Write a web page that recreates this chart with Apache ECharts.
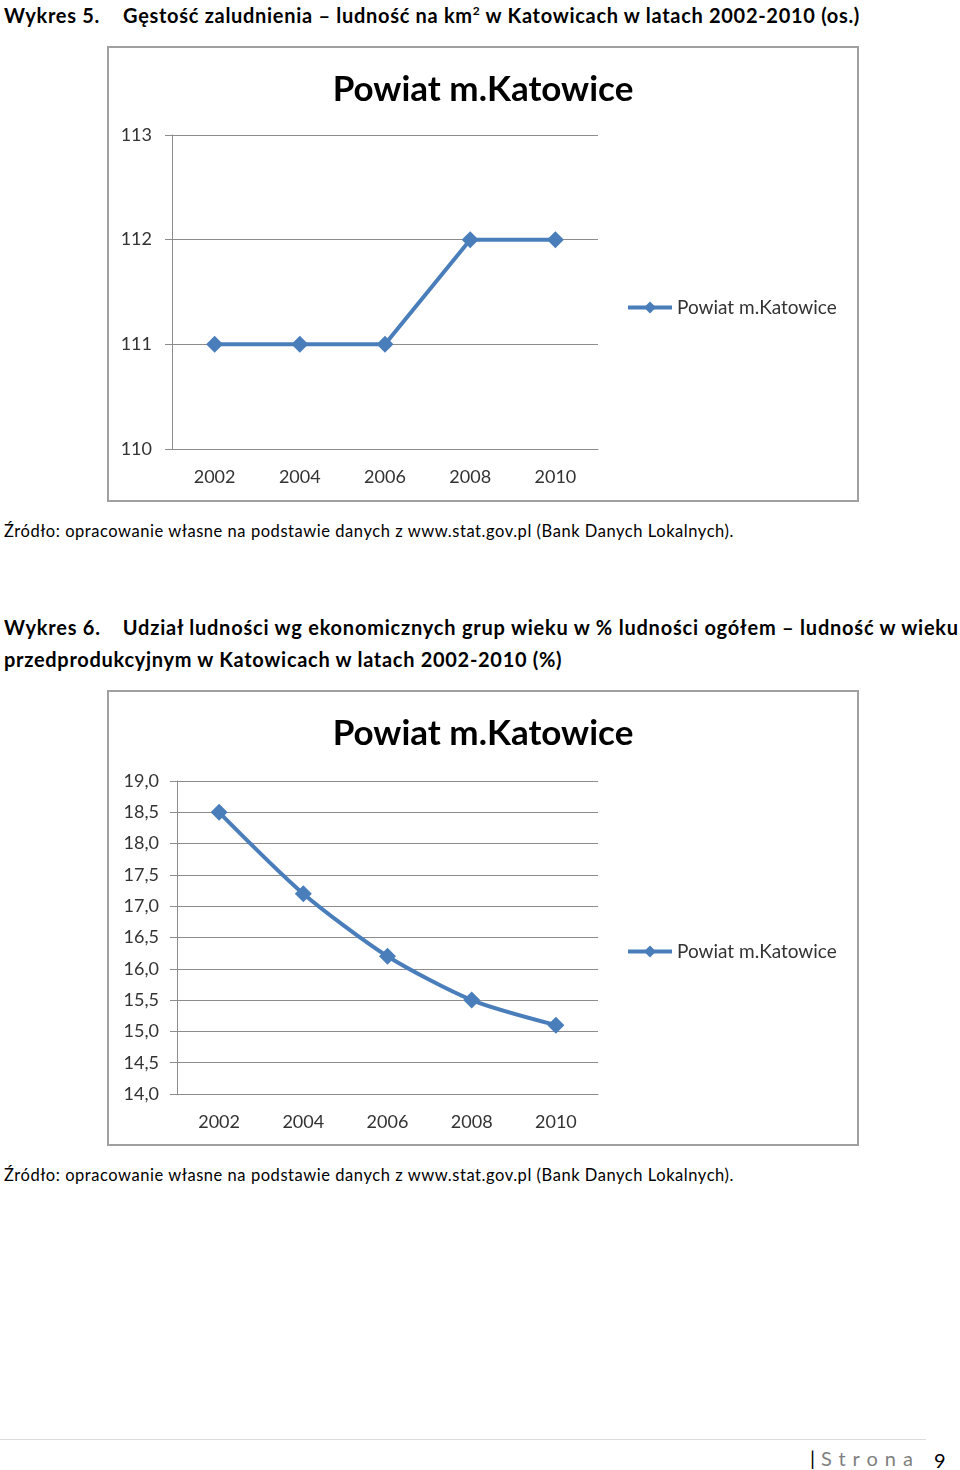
<!DOCTYPE html>
<html>
<head>
<meta charset="utf-8">
<script src="https://cdn.jsdelivr.net/npm/echarts@6/dist/echarts.min.js"></script>
<style>
  body { margin: 0; width: 960px; height: 1470px; background: #fff; position: relative; font-family: Lato, 'Open Sans', sans-serif; color: #000; }
  .txt { position: absolute; left: 4px; white-space: nowrap; }
  .head { font-weight: bold; font-size: 20px; letter-spacing: 0.7px; }
  .src { font-size: 16.5px; letter-spacing: 0.55px; }
  .chart { position: absolute; left: 107px; width: 752px; height: 456px; box-sizing: border-box; border: 2px solid #a0a0a0; background: #fff; }
  .foot-line { position: absolute; left: 0; top: 1439px; width: 926px; height: 1px; background: #ddd; }
</style>
</head>
<body>
<div class="txt head" style="top:3px;">Wykres 5.<span style="display:inline-block;width:23px"></span>Gęstość zaludnienia – ludność na km<sup style="font-size:12px;line-height:0">2</sup> w Katowicach w latach 2002-2010 (os.)</div>
<div id="chart1" class="chart" style="top:46px;"></div>
<div class="txt src" style="top:521px;">Źródło: opracowanie własne na podstawie danych z www.stat.gov.pl (Bank Danych Lokalnych).</div>

<div class="txt head" style="top:615px;letter-spacing:0.78px;">Wykres 6.<span style="display:inline-block;width:22px"></span>Udział ludności wg ekonomicznych grup wieku w % ludności ogółem – ludność w wieku</div>
<div class="txt head" style="top:647px;">przedprodukcyjnym w Katowicach w latach 2002-2010 (%)</div>
<div id="chart2" class="chart" style="top:690px;"></div>
<div class="txt src" style="top:1165px;">Źródło: opracowanie własne na podstawie danych z www.stat.gov.pl (Bank Danych Lokalnych).</div>

<div class="foot-line"></div>
<div style="position:absolute;left:810px;top:1446px;font-size:20px;color:#7f7f7f;letter-spacing:7px;white-space:nowrap;"><span style="color:#000;letter-spacing:0;margin-right:6px;">|</span>Strona</div>
<div style="position:absolute;left:934px;top:1448px;font-size:20px;color:#000;">9</div>

<script>
// dane
const years = ['2002', '2004', '2006', '2008', '2010'];
const density = [111, 111, 111, 112, 112];           // os. na km2
const preProductive = [18.5, 17.2, 16.2, 15.5, 15.1]; // % ludności
const seriesName = 'Powiat m.Katowice';

const blue = '#4a7ebb';
const gridGray = '#8c8c8c';
const font = 'Lato, "Open Sans", sans-serif';

// wspólne opcje dla obu wykresów
function buildOption(values, yAxis, grid) {
    return {
        animation: false,
        title: {
            text: seriesName,
            left: 'center',
            top: 19,
            textStyle: { fontSize: 35, fontWeight: 'bold', fontFamily: font, color: '#000' }
        },
        legend: {
            data: [seriesName],
            left: 512,
            top: 245,
            itemWidth: 44,
            itemHeight: 15,
            itemGap: 4,
            lineStyle: { width: 4 },
            textStyle: { fontSize: 19, fontFamily: font, color: '#333' }
        },
        grid: grid,
        xAxis: {
            type: 'category',
            data: years,
            boundaryGap: true,
            axisLine: { lineStyle: { color: gridGray } },
            axisTick: { length: 7, lineStyle: { color: gridGray } },
            axisLabel: { fontSize: 18, fontFamily: font, color: '#333', margin: 19 }
        },
        yAxis: Object.assign({
            type: 'value',
            axisLine: { show: true, lineStyle: { color: gridGray } },
            axisTick: { show: true, length: 7, inside: false, lineStyle: { color: gridGray } },
            splitLine: { lineStyle: { color: gridGray } }
        }, yAxis),
        series: [{
            name: seriesName,
            type: 'line',
            data: values,
            symbol: 'diamond',
            symbolSize: 17,
            itemStyle: { color: blue },
            lineStyle: { color: blue, width: 4 }
        }]
    };
}

const chart1 = echarts.init(document.getElementById('chart1'));
chart1.setOption(buildOption(density, {
    min: 110, max: 113, interval: 1,
    axisLabel: { fontSize: 18, fontFamily: font, color: '#333', margin: 20 }
}, { left: 63, top: 87, width: 426, height: 314 }));

const chart2 = echarts.init(document.getElementById('chart2'));
const opt2 = buildOption(preProductive, {
    min: 14, max: 19, interval: 0.5,
    axisLabel: {
        fontSize: 18, fontFamily: font, color: '#333', margin: 18,
        formatter: v => v.toFixed(1).replace('.', ',')
    }
}, { left: 68, top: 89, width: 421, height: 313 });
opt2.series[0].smooth = 0.25;
chart2.setOption(opt2);
</script>
</body>
</html>
